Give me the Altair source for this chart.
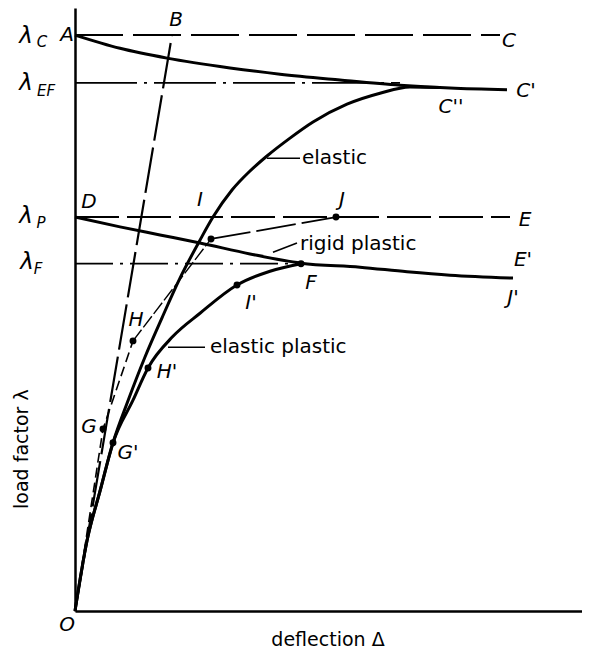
import altair as alt
import pandas as pd

# ---------------- data (deflection Δ in arbitrary units, load factor λ relative to λ_C) -------------
lam_C = 1.000
lam_EF = 0.917
lam_P = 0.684
lam_F = 0.603

# A -> C'  (upper curve starting at λ_C)
ac_d = [0.00, 0.45, 0.92, 1.55, 2.05, 2.65, 3.25, 3.75, 4.32]
ac_l = [1.000, 0.977, 0.960, 0.943, 0.932, 0.922, 0.913, 0.908, 0.905]

# D -> E'  (lower curve starting at λ_P)
de_d = [0.00, 0.45, 0.85, 1.25, 1.75, 2.26, 2.85, 3.32, 3.75, 4.38]
de_l = [0.684, 0.667, 0.653, 0.639, 0.620, 0.604, 0.597, 0.589, 0.583, 0.578]

# elastic curve O -> C''
el_d = [0.00, 0.12, 0.25, 0.38, 0.53, 0.70, 0.87, 1.05, 1.25, 1.38, 1.57, 1.75, 1.92, 2.15, 2.38, 2.72, 3.05, 3.35, 3.65]
el_l = [0.000, 0.122, 0.208, 0.292, 0.365, 0.441, 0.509, 0.578, 0.644, 0.684, 0.731, 0.764, 0.790, 0.821, 0.849, 0.880, 0.899, 0.910, 0.909]

# elastic plastic curve O -> G' -> H' -> I' -> F
ep_d = [0.00, 0.12, 0.25, 0.38, 0.58, 0.73, 0.98, 1.25, 1.62, 1.95, 2.26]
ep_l = [0.000, 0.122, 0.208, 0.292, 0.366, 0.422, 0.477, 0.517, 0.566, 0.590, 0.603]

# rigid plastic path O -> G -> H -> K -> J
rp1_d = [0.00, 0.28, 0.58]
rp1_l = [0.000, 0.316, 0.469]
rp2_d = [0.58, 1.36]
rp2_l = [0.469, 0.646]
rp3_d = [1.36, 2.61]
rp3_l = [0.646, 0.684]

# O -> B line
ob_d = [0.00, 0.97]
ob_l = [0.000, 1.000]

# horizontal reference levels: end of each line
ref_end = {"C": 4.25, "EF": 3.25, "P": 4.35, "F": 2.26}

# marked points G, H, K, J, G', H', I', F
pt_d = [0.28, 0.58, 1.36, 2.61, 0.38, 0.73, 1.62, 2.26]
pt_l = [0.316, 0.469, 0.646, 0.684, 0.292, 0.422, 0.566, 0.603]

# letter labels
lab_txt = ["A", "B", "C", "C'", "C''", "D", "I", "J", "E", "E'", "J'", "F", "I'", "H", "H'", "G", "G'", "O"]
lab_d = [-0.08, 1.01, 4.34, 4.51, 3.76, 0.14, 1.25, 2.67, 4.50, 4.48, 4.38, 2.36, 1.76, 0.61, 0.92, 0.14, 0.53, -0.08]
lab_l = [1.000, 1.026, 0.990, 0.903, 0.875, 0.710, 0.714, 0.714, 0.679, 0.609, 0.543, 0.569, 0.535, 0.505, 0.415, 0.319, 0.274, -0.024]

# λ level labels
lvl_sub = ["C", "EF", "P", "F"]
lvl_d = [-0.49, -0.49, -0.49, -0.48]
lvl_l = [0.998, 0.917, 0.686, 0.606]
sub_d = [-0.33, -0.29, -0.34, -0.37]
sub_l = [0.988, 0.903, 0.674, 0.594]

# word labels with leader lines
word_txt = ["elastic", "rigid plastic", "elastic plastic"]
word_d = [2.27, 2.25, 1.35]
word_l = [0.786, 0.637, 0.459]
lead1_d, lead1_l = [1.92, 2.25], [0.786, 0.786]
lead2_d, lead2_l = [1.98, 2.22], [0.623, 0.639]
lead3_d, lead3_l = [0.93, 1.30], [0.458, 0.458]

# axis titles
ytitle = "load factor λ"
xtitle = "deflection Δ"

# ---------------- chart -------------
W, H = 507, 603
xs = alt.Scale(domain=[0, 5.07], nice=False, zero=False)
ys = alt.Scale(domain=[0, 1.047], nice=False, zero=False)
X = alt.X("d:Q", scale=xs, title=None)
Y = alt.Y("lam:Q", scale=ys, title=None)

SANS = "DejaVu Sans"


def path(ds, ls, width=2.0, dash=None, interp="linear"):
    df = pd.DataFrame({"d": ds, "lam": ls, "o": list(range(len(ds)))})
    kw = dict(color="black", strokeWidth=width, interpolate=interp, strokeCap="butt")
    if dash:
        kw["strokeDash"] = dash
    return alt.Chart(df).mark_line(**kw).encode(x=X, y=Y, order="o:Q")


def hline(level, end, dash, width=2.0):
    return path([0.0, end], [level, level], width=width, dash=dash)


def texts(ds, ls, txt, size, font, style="normal", align="center", angle=0, baseline="middle"):
    df = pd.DataFrame({"d": ds, "lam": ls, "t": txt})
    kw = dict(color="black", fontSize=size, font=font, fontStyle=style, align=align, baseline=baseline)
    if angle:
        kw["angle"] = angle
    return alt.Chart(df).mark_text(**kw).encode(x=X, y=Y, text="t:N")


layers = [
    hline(lam_C, ref_end["C"], [48, 10], 2.0),
    hline(lam_EF, ref_end["EF"], [62, 7, 3, 7], 1.8),
    hline(lam_P, ref_end["P"], [44, 8], 2.0),
    hline(lam_F, ref_end["F"], [38, 7, 3, 7], 1.8),
    path(ob_d, ob_l, 2.2, [46, 7]),
    path(ac_d, ac_l, 3.0, None, "monotone"),
    path(de_d, de_l, 3.0, None, "monotone"),
    path(el_d, el_l, 3.0, None, "monotone"),
    path(ep_d, ep_l, 3.0, None, "monotone"),
    path(rp1_d, rp1_l, 1.6, [10, 5]),
    path(rp2_d, rp2_l, 1.4, [14, 3]),
    path(rp3_d, rp3_l, 1.8, [40, 6]),
    path(lead1_d, lead1_l, 1.6),
    path(lead2_d, lead2_l, 1.6),
    path(lead3_d, lead3_l, 1.6),
    alt.Chart(pd.DataFrame({"d": pt_d, "lam": pt_l})).mark_circle(
        color="black", opacity=1, size=48
    ).encode(x=X, y=Y),
    texts(lab_d, lab_l, lab_txt, 20, "DejaVu Sans", "italic"),
    texts(lvl_d, lvl_l, ["λ"] * 4, 23, "DejaVu Sans", "italic"),
    texts(sub_d, sub_l, lvl_sub, 15, "DejaVu Sans", "italic"),
    texts(word_d, word_l, word_txt, 20, SANS, "normal", "left"),
    texts([-0.53], [0.281], [ytitle], 19, SANS, "normal", "center", 270),
    texts([2.53], [-0.0677], [xtitle], 19, SANS, "normal", "center", 0, "bottom"),
]

chart = (
    alt.layer(*layers)
    .properties(
        width=W,
        height=H,
        autosize=alt.AutoSizeParams(type="none"),
        padding={"left": 67, "top": 0, "right": 0, "bottom": 40},
        background="white",
    )
    .configure_view(stroke=None)
    .configure_axis(
        domain=True, domainColor="black", domainWidth=2.5, ticks=False, labels=False, grid=False, title=None
    )
)

chart.save("out.html", embed_options={"renderer": "svg", "actions": False})
